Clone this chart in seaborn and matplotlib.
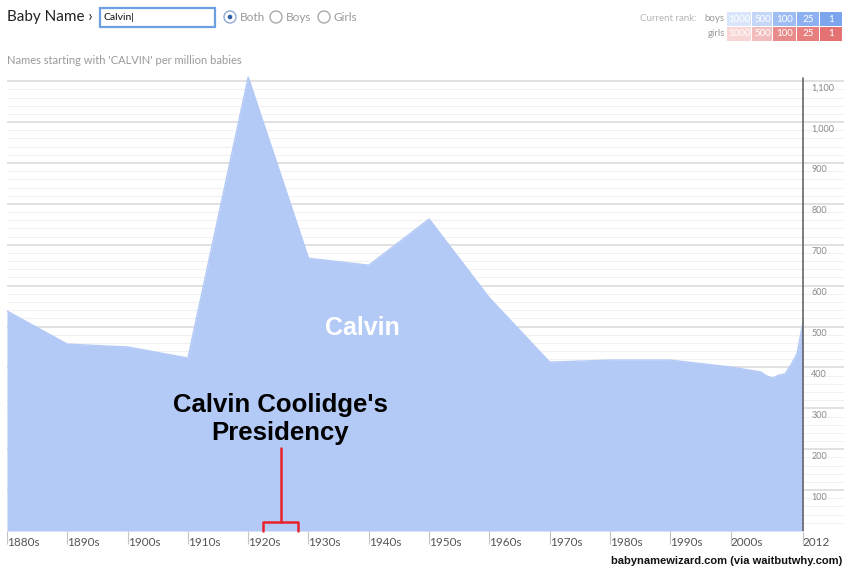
import matplotlib.pyplot as plt
import matplotlib.transforms as mtransforms
import numpy as np
import pandas as pd
import seaborn as sns
from matplotlib.patches import Rectangle, Circle

# Data (names starting with 'CALVIN' per million babies)
years = [1880, 1890, 1900, 1910, 1920, 1930, 1940, 1950, 1960, 1970, 1980, 1990,
         2000, 2005, 2006, 2007, 2008, 2009, 2010, 2011, 2012]
per_million = [538, 457, 450, 423, 1110, 667, 650, 763, 570, 413, 418, 418,
               401, 389, 379, 374, 381, 384, 406, 433, 511]
decade_ticks = [1880, 1890, 1900, 1910, 1920, 1930, 1940, 1950, 1960, 1970, 1980, 1990, 2000, 2012]
decade_labels = ["1880s", "1890s", "1900s", "1910s", "1920s", "1930s", "1940s", "1950s",
                 "1960s", "1970s", "1980s", "1990s", "2000s", "2012"]
y_major = [100, 200, 300, 400, 500, 600, 700, 800, 900, 1000, 1100]
rank_levels = ["1000", "500", "100", "25", "1"]
boys_colors = ["#d9e5fb", "#c5d7f8", "#9ebdf3", "#8db0f0", "#7ca5ee"]
girls_colors = ["#f8d6d6", "#f3bdbd", "#ea8b8b", "#e77f7f", "#e57272"]
presidency = (1922.5, 1928.3)

df = pd.DataFrame({"year": years, "value": per_million})

sns.set_theme(style="white")
plt.rcParams["font.family"] = ["Lato", "DejaVu Sans"]

fig = plt.figure(figsize=(8.45, 5.73), dpi=100)
ax = fig.add_axes([7 / 845, 42 / 573, 838 / 845, 458 / 573])
x_right = 1880 + 838 / 6.03
ax.set_xlim(1880, x_right)
ax.set_ylim(0, 1120)

# gridlines: light every 20, darker every 100
for v in range(20, 1101, 20):
    if v % 100:
        ax.axhline(v, color="#f1f1f1", lw=0.8, zorder=0)
for v in y_major:
    ax.axhline(v, color="#dcdcdc", lw=1.2, zorder=0)

fill = "#b3c9f6"
ax.fill_between(df["year"], df["value"], color=fill, lw=0, zorder=2)
sns.lineplot(data=df, x="year", y="value", color=fill, lw=1, ax=ax, zorder=2)

# right-hand axis line at 2012 with value labels
ax.plot([2012, 2012], [0, 1108], color="#5a5a5a", lw=1.1, zorder=3)
for v in y_major:
    ax.text(2013.4, v - 17, f"{v:,}", fontsize=6.5, color="#8a8a8a", va="center", ha="left")

ax.set_xticks(decade_ticks)
ax.set_xticklabels(decade_labels, fontsize=8.5, color="#555555")
shift = mtransforms.ScaledTranslation(2 / 100, 0, fig.dpi_scale_trans)
for lab in ax.get_xticklabels():
    lab.set_ha("left")
    lab.set_transform(lab.get_transform() + shift)
ax.tick_params(axis="x", direction="out", length=9, width=0.8, color="#c4c4c4", pad=-5, bottom=True)
ax.set_yticks([])
ax.set_xlabel("")
ax.set_ylabel("")
for s in ax.spines.values():
    s.set_visible(False)

# annotations
ax.text(1938.9, 496, "Calvin", color="white", fontsize=18, fontweight="bold",
        family="Liberation Sans", ha="center", va="center", zorder=4)
ax.text(1925.3, 274, "Calvin Coolidge's\nPresidency", color="black", fontsize=18.5,
        fontweight="bold", family="Liberation Sans", ha="center", va="center",
        linespacing=1.2, zorder=4)
mid = sum(presidency) / 2
red = "#e8232b"
ax.plot([mid, mid], [203, 22], color=red, lw=1.8, zorder=4)
ax.plot([presidency[0], presidency[0], presidency[1], presidency[1]], [0, 22, 22, 0],
        color=red, lw=1.8, zorder=4, clip_on=False)

# header drawn in pixel coordinates
hd = fig.add_axes([0, 0, 1, 1], facecolor="none")
hd.set_xlim(0, 845)
hd.set_ylim(573, 0)
hd.axis("off")

hd.text(7, 17, "Baby Name \u203a", fontsize=11, color="#222222", va="center")
hd.add_patch(Rectangle((100, 8), 115, 19, facecolor="white", edgecolor="#6e9fe2", lw=1.6))
hd.text(104, 17.5, "Calvin|", fontsize=7.5, color="#111111", va="center")
hd.add_patch(Circle((230, 17), 6, facecolor="white", edgecolor="#8fa9d6", lw=1))
hd.add_patch(Circle((230, 17), 2.3, facecolor="#2f5fae", lw=0))
hd.add_patch(Circle((276, 17), 6, facecolor="white", edgecolor="#aaaaaa", lw=1))
hd.add_patch(Circle((324, 17), 6, facecolor="white", edgecolor="#aaaaaa", lw=1))
for xt, lab in [(240, "Both"), (286, "Boys"), (334, "Girls")]:
    hd.text(xt, 17.5, lab, fontsize=8.5, color="#9a9a9a", va="center")

hd.text(7, 60, "Names starting with 'CALVIN' per million babies", fontsize=8, color="#9a9a9a", va="center")

hd.text(697, 18.5, "Current rank:", fontsize=7, color="#b5b5b5", va="center", ha="right")
hd.text(725, 18.5, "boys", fontsize=7, color="#9a9a9a", va="center", ha="right")
hd.text(725, 33.5, "girls", fontsize=7, color="#9a9a9a", va="center", ha="right")
edges = [727, 752, 773, 797, 820, 843]
for i, lab in enumerate(rank_levels):
    w = edges[i + 1] - edges[i]
    for y0, cols in [(12, boys_colors), (27, girls_colors)]:
        hd.add_patch(Rectangle((edges[i], y0), w - 0.8, 13.5, facecolor=cols[i], lw=0))
        hd.text(edges[i] + w / 2, y0 + 7, lab, fontsize=7, color="white", ha="center", va="center")

hd.text(842, 561, "babynamewizard.com (via waitbutwhy.com)", fontsize=8, fontweight="bold",
        family="Liberation Sans", color="#111111", ha="right", va="center")

fig.savefig("out.png", dpi=100)
